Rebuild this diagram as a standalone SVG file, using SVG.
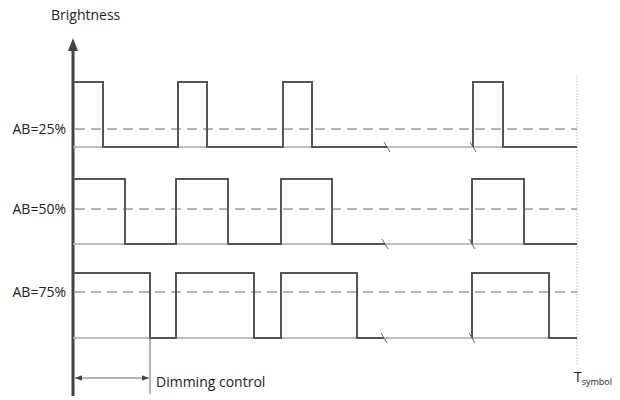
<svg xmlns="http://www.w3.org/2000/svg" width="620" height="400" viewBox="0 0 620 400">
<defs>
<style>
text{font-family:"Open Sans","Liberation Sans",Arial,sans-serif;fill:#222;}
.lbl{font-size:14px;}
.base{stroke:#aaa;stroke-width:1.3;fill:none;}
.dash{stroke:#6a6a6a;stroke-width:1.2;stroke-dasharray:10 6;fill:none;}
.wave{stroke:#555;stroke-width:2;fill:none;stroke-linejoin:miter;}
.brk{stroke:#666;stroke-width:1;}
.thin{stroke:#666;stroke-width:1;fill:none;}
</style>
<marker id="ah" viewBox="0 0 10 10" refX="10" refY="5" markerWidth="7" markerHeight="7" orient="auto-start-reverse" markerUnits="userSpaceOnUse">
<path d="M0,1 L10,5 L0,9 z" fill="#444"/>
</marker>
</defs>
<rect width="620" height="400" fill="#fff"/>
<g id="axis">
<line x1="73" y1="48" x2="73" y2="396" stroke="#444" stroke-width="3"/>
<path d="M73,38 L78,51 L68,51 z" fill="#444"/>
<text class="lbl" x="51" y="20">Brightness</text>
</g>
<g id="tsymbol">
<line x1="577" y1="75" x2="577" y2="366" stroke="#bbb" stroke-width="1" stroke-dasharray="1.5 1.5"/>
<text x="574" y="382" font-size="14">T<tspan font-size="9" dy="3">symbol</tspan></text>
</g>
<g id="row25">
<text class="lbl" x="66" y="134" text-anchor="end">AB=25%</text>
<line class="base" x1="73" y1="147" x2="577" y2="147"/>
<line class="dash" x1="75" y1="129" x2="577" y2="129"/>
<path class="wave" d="M73,82 H103 V147 H178 V82 H207 V147 H283 V82 H312 V147 H387"/>
<path class="wave" d="M473,147 V82 H503 V147 H577"/>
<line class="brk" x1="384" y1="142" x2="390" y2="152"/>
<line class="brk" x1="470" y1="142" x2="476" y2="152"/>
</g>
<g id="row50">
<text class="lbl" x="66" y="214" text-anchor="end">AB=50%</text>
<line class="base" x1="73" y1="244" x2="577" y2="244"/>
<line class="dash" x1="75" y1="209" x2="577" y2="209"/>
<path class="wave" d="M73,179 H125 V244 H176 V179 H228 V244 H281 V179 H332 V244 H385"/>
<path class="wave" d="M472,244 V179 H524 V244 H577"/>
<line class="brk" x1="382" y1="239" x2="388" y2="249"/>
<line class="brk" x1="469" y1="239" x2="475" y2="249"/>
</g>
<g id="row75">
<text class="lbl" x="66" y="297" text-anchor="end">AB=75%</text>
<line class="base" x1="73" y1="338" x2="577" y2="338"/>
<line class="dash" x1="75" y1="292" x2="577" y2="292"/>
<path class="wave" d="M73,273 H150 V338 H176 V273 H254 V338 H281 V273 H357 V338 H384"/>
<path class="wave" d="M472,338 V273 H549 V338 H577"/>
<line class="brk" x1="381" y1="333" x2="387" y2="343"/>
<line class="brk" x1="469" y1="333" x2="475" y2="343"/>
</g>
<g id="connectors">
<line class="thin" x1="150" y1="338" x2="150" y2="394"/>
<line class="thin" x1="75" y1="378" x2="149" y2="378" marker-start="url(#ah)" marker-end="url(#ah)"/>
</g>
<g id="dimming">
<text x="156" y="387" font-size="14">Dimming control</text>
</g>
</svg>
